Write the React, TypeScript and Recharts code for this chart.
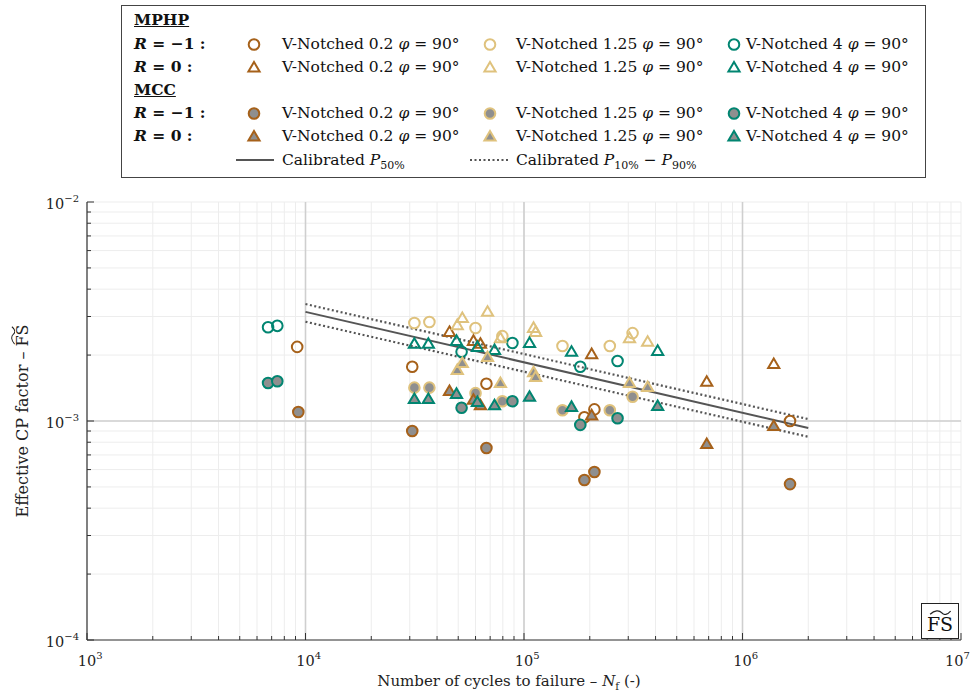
import { ScatterChart, Scatter, XAxis, YAxis, CartesianGrid, ReferenceLine } from 'recharts'

type Pt = { n: number; fs: number }
const pts = (rows: number[][]): Pt[] => rows.map(([n, fs]) => ({ n, fs }))

// MPHP, R = -1 (open circles)
const mphpRm1_02 = pts([[9160, 2.18e-3], [30800, 1.77e-3], [67300, 1.48e-3], [189000, 1.04e-3], [210000, 1.13e-3], [1650000, 1.0e-3]])
const mphpRm1_125 = pts([[31500, 2.8e-3], [36900, 2.83e-3], [60000, 2.66e-3], [79600, 2.44e-3], [150000, 2.2e-3], [247000, 2.2e-3], [314000, 2.52e-3]])
const mphpRm1_4 = pts([[6740, 2.68e-3], [7430, 2.72e-3], [51800, 2.07e-3], [88500, 2.27e-3], [181000, 1.77e-3], [268000, 1.88e-3]])
// MPHP, R = 0 (open triangles)
const mphpR0_02 = pts([[45600, 2.55e-3], [58700, 2.32e-3], [63200, 2.25e-3], [204000, 2.02e-3], [686000, 1.51e-3], [1390000, 1.82e-3]])
const mphpR0_125 = pts([[49500, 2.74e-3], [52200, 2.95e-3], [68100, 3.15e-3], [78000, 2.39e-3], [110600, 2.66e-3], [113000, 2.55e-3], [304000, 2.39e-3], [368000, 2.3e-3]])
const mphpR0_4 = pts([[31500, 2.25e-3], [36500, 2.25e-3], [49100, 2.32e-3], [61200, 2.18e-3], [73300, 2.11e-3], [106000, 2.27e-3], [165000, 2.07e-3], [409000, 2.09e-3]])
// MCC, R = -1 (filled circles)
const mccRm1_02 = pts([[9270, 1.1e-3], [30800, 9.0e-4], [67300, 7.53e-4], [210000, 5.85e-4], [189000, 5.38e-4], [1650000, 5.15e-4]])
const mccRm1_125 = pts([[31500, 1.42e-3], [36900, 1.42e-3], [60000, 1.34e-3], [79600, 1.23e-3], [150000, 1.12e-3], [247000, 1.12e-3], [314000, 1.29e-3]])
const mccRm1_4 = pts([[6740, 1.49e-3], [7430, 1.52e-3], [51800, 1.15e-3], [88500, 1.23e-3], [181000, 9.6e-4], [268000, 1.03e-3]])
// MCC, R = 0 (filled triangles)
const mccR0_02 = pts([[45600, 1.37e-3], [58700, 1.25e-3], [63200, 1.18e-3], [204000, 1.06e-3], [686000, 7.85e-4], [1390000, 9.48e-4]])
const mccR0_125 = pts([[49500, 1.71e-3], [52200, 1.84e-3], [68100, 1.96e-3], [78000, 1.49e-3], [110600, 1.67e-3], [113000, 1.59e-3], [304000, 1.49e-3], [368000, 1.43e-3]])
const mccR0_4 = pts([[31500, 1.26e-3], [36500, 1.26e-3], [49100, 1.33e-3], [61200, 1.22e-3], [73300, 1.18e-3], [106000, 1.29e-3], [165000, 1.16e-3], [409000, 1.17e-3]])

// calibrated curves
const p50 = pts([[1e4, 3.15e-3], [2e6, 9.3e-4]])
const p90 = pts([[1e4, 3.42e-3], [2e6, 1.02e-3]])
const p10 = pts([[1e4, 2.84e-3], [2e6, 8.47e-4]])

const xDecades = [1e3, 1e4, 1e5, 1e6, 1e7]
const yDecades = [1e-4, 1e-3, 1e-2]
const notchLabels = ['V-Notched 0.2', 'V-Notched 1.25', 'V-Notched 4']

const BROWN = '#a6611a'
const TAN = '#dfc27d'
const TEAL = '#018571'
const GREY_FILL = '#8f8f8f'
const FONT = '"DejaVu Serif", "Liberation Serif", serif'

const withMinors = (dec: number[]) =>
  dec.flatMap((d, i) => (i < dec.length - 1 ? [1, 2, 3, 4, 5, 6, 7, 8, 9].map(k => k * d) : [d]))
const xTicks = withMinors(xDecades)
const yTicks = withMinors(yDecades)
const isDecade = (v: number) => Math.abs(Math.log10(v) - Math.round(Math.log10(v))) < 1e-6
const expOf = (v: number) => Math.round(Math.log10(v))

type Kind = 'circle' | 'triangle'

function Marker({ cx, cy, color, kind, filled }: { cx: number; cy: number; color: string; kind: Kind; filled: boolean }) {
  const fill = filled ? GREY_FILL : 'none'
  if (kind === 'circle') {
    return <circle cx={cx} cy={cy} r={5.3} fill={fill} stroke={color} strokeWidth={2} />
  }
  const p = `${cx},${cy - 5.6} ${cx + 5.6},${cy + 4} ${cx - 5.6},${cy + 4}`
  return <polygon points={p} fill={fill} stroke={color} strokeWidth={2} strokeLinejoin="miter" />
}

const makeShape = (color: string, kind: Kind, filled: boolean) => (props: any) => {
  const { cx, cy } = props
  if (cx == null || cy == null) return <g />
  return <Marker cx={cx} cy={cy} color={color} kind={kind} filled={filled} />
}

const series = [
  { key: 'mphpRm1_02', data: mphpRm1_02, color: BROWN, kind: 'circle' as Kind, filled: false },
  { key: 'mphpRm1_125', data: mphpRm1_125, color: TAN, kind: 'circle' as Kind, filled: false },
  { key: 'mphpRm1_4', data: mphpRm1_4, color: TEAL, kind: 'circle' as Kind, filled: false },
  { key: 'mphpR0_02', data: mphpR0_02, color: BROWN, kind: 'triangle' as Kind, filled: false },
  { key: 'mphpR0_125', data: mphpR0_125, color: TAN, kind: 'triangle' as Kind, filled: false },
  { key: 'mphpR0_4', data: mphpR0_4, color: TEAL, kind: 'triangle' as Kind, filled: false },
  { key: 'mccRm1_02', data: mccRm1_02, color: BROWN, kind: 'circle' as Kind, filled: true },
  { key: 'mccRm1_125', data: mccRm1_125, color: TAN, kind: 'circle' as Kind, filled: true },
  { key: 'mccRm1_4', data: mccRm1_4, color: TEAL, kind: 'circle' as Kind, filled: true },
  { key: 'mccR0_02', data: mccR0_02, color: BROWN, kind: 'triangle' as Kind, filled: true },
  { key: 'mccR0_125', data: mccR0_125, color: TAN, kind: 'triangle' as Kind, filled: true },
  { key: 'mccR0_4', data: mccR0_4, color: TEAL, kind: 'triangle' as Kind, filled: true },
]

const AXIS = '#333'

function PowLabel({ x, y, exp, anchor }: { x: number; y: number; exp: number; anchor: 'end' | 'start' }) {
  return (
    <text x={x} y={y} textAnchor={anchor} fontFamily={FONT} fontSize={14.5} fill="#222">
      <tspan>10</tspan>
      <tspan dy={-7.5} fontSize={10}>{exp < 0 ? `−${-exp}` : `${exp}`}</tspan>
    </text>
  )
}

const tickLen = (v: number) => (isDecade(v) ? 7 : 4)

function LeftTick(props: any) {
  const { x, y, payload } = props
  const v = payload.value
  return (
    <g>
      <line x1={x} y1={y} x2={x + tickLen(v)} y2={y} stroke={AXIS} />
      {isDecade(v) && <PowLabel x={x - 8} y={y + 7} exp={expOf(v)} anchor="end" />}
    </g>
  )
}
function RightTick(props: any) {
  const { x, y, payload } = props
  return <line x1={x} y1={y} x2={x - tickLen(payload.value)} y2={y} stroke={AXIS} />
}
function BottomTick(props: any) {
  const { x, y, payload } = props
  const v = payload.value
  // keep the last label inside the picture
  const lx = Math.min(x - 9.2, 971 - 26)
  return (
    <g>
      <line x1={x} y1={y} x2={x} y2={y - tickLen(v)} stroke={AXIS} />
      {isDecade(v) && <PowLabel x={lx} y={y + 26} exp={expOf(v)} anchor="start" />}
    </g>
  )
}
function TopTick(props: any) {
  const { x, y, payload } = props
  return <line x1={x} y1={y} x2={x} y2={y + tickLen(payload.value)} stroke={AXIS} />
}

function LegendMarker({ color, kind, filled }: { color: string; kind: Kind; filled: boolean }) {
  return (
    <svg width={16} height={16} style={{ position: 'absolute' }}>
      <Marker cx={8} cy={8.5} color={color} kind={kind} filled={filled} />
    </svg>
  )
}

const rowY = [20, 44, 67, 90, 113, 136, 160]
const markerX = [254, 490, 734]
const textX = [282, 516, 746]

function Legend() {
  const txt = (left: number, top: number, content: any, extra: any = {}) => (
    <div style={{ position: 'absolute', left, top: top - 10, height: 20, lineHeight: '20px', whiteSpace: 'nowrap', ...extra }}>
      {content}
    </div>
  )
  const rLabel = (v: string) => (
    <span style={{ fontWeight: 'bold' }}>
      <i>R</i> = {v} :
    </span>
  )
  const phi = (
    <>
      {' '}<i>φ</i> = 90°
    </>
  )
  const entryRows = [
    { row: 1, list: series.slice(0, 3) },
    { row: 2, list: series.slice(3, 6) },
    { row: 4, list: series.slice(6, 9) },
    { row: 5, list: series.slice(9, 12) },
  ]
  return (
    <div
      style={{
        position: 'absolute',
        left: 0,
        top: 0,
        width: 971,
        height: 190,
        fontFamily: FONT,
        fontSize: 15.5,
        color: '#111',
      }}
    >
      <div style={{ position: 'absolute', left: 121, top: 5, width: 803, height: 171, border: '1.3px solid #444' }} />
      {txt(134, rowY[0], <b><u>MPHP</u></b>)}
      {txt(134, rowY[1], rLabel('−1'))}
      {txt(134, rowY[2], rLabel('0'))}
      {txt(134, rowY[3], <b><u>MCC</u></b>)}
      {txt(134, rowY[4], rLabel('−1'))}
      {txt(134, rowY[5], rLabel('0'))}
      {entryRows.map(({ row, list }) =>
        list.map((s, i) => (
          <div key={s.key}>
            <div style={{ position: 'absolute', left: markerX[i] - 8, top: rowY[row] - 8 }}>
              <LegendMarker color={s.color} kind={s.kind} filled={s.filled} />
            </div>
            {txt(textX[i], rowY[row], <>{notchLabels[i]}{phi}</>)}
          </div>
        ))
      )}
      <svg width={971} height={190} style={{ position: 'absolute', left: 0, top: 0 }}>
        <line x1={236} x2={274} y1={rowY[6]} y2={rowY[6]} stroke="#555" strokeWidth={2} />
        <line x1={470} x2={508} y1={rowY[6]} y2={rowY[6]} stroke="#555" strokeWidth={2} strokeDasharray="2 2.5" />
      </svg>
      {txt(282, rowY[6], <>Calibrated <i>P</i><sub style={{ fontSize: 11 }}>50%</sub></>)}
      {txt(516, rowY[6], <>Calibrated <i>P</i><sub style={{ fontSize: 11 }}>10%</sub> − <i>P</i><sub style={{ fontSize: 11 }}>90%</sub></>)}
    </div>
  )
}

// "FS" with a wide tilde accent on top
function TildeFS({ size }: { size: number }) {
  return (
    <span style={{ position: 'relative', display: 'inline-block', lineHeight: 1 }}>
      FS
      <svg
        width={size * 1.2}
        height={size * 0.28}
        viewBox="0 0 20 5"
        preserveAspectRatio="none"
        style={{ position: 'absolute', left: '50%', marginLeft: -size * 0.6, top: -size * 0.27 }}
      >
        <path d="M1,4 C5,0 9,0 11,2.5 S16,5 19,1" fill="none" stroke="#222" strokeWidth={1.1} />
      </svg>
    </span>
  )
}

export default function App() {
  return (
    <div style={{ position: 'absolute', left: 0, top: 0, width: 971, height: 693, background: '#fff' }}>
      <ScatterChart width={971} height={693} margin={{ top: 202, right: 10, bottom: 13, left: 27 }}>
        <CartesianGrid stroke="#ededed" strokeWidth={1} />
        <XAxis
          dataKey="n"
          type="number"
          scale="log"
          domain={[1e3, 1e7]}
          allowDataOverflow
          ticks={xTicks}
          interval={0}
          tick={<BottomTick />}
          tickLine={false}
          tickSize={0}
          tickMargin={0}
          height={40}
          axisLine={{ stroke: AXIS, strokeWidth: 1.2 }}
        />
        <XAxis
          xAxisId="top"
          orientation="top"
          type="number"
          scale="log"
          domain={[1e3, 1e7]}
          allowDataOverflow
          ticks={xTicks}
          interval={0}
          tick={<TopTick />}
          tickLine={false}
          tickSize={0}
          tickMargin={0}
          height={0}
          axisLine={{ stroke: AXIS, strokeWidth: 1.2 }}
        />
        <YAxis
          dataKey="fs"
          type="number"
          scale="log"
          domain={[1e-4, 1e-2]}
          allowDataOverflow
          ticks={yTicks}
          interval={0}
          tick={<LeftTick />}
          tickLine={false}
          tickSize={0}
          tickMargin={0}
          width={60}
          axisLine={{ stroke: AXIS, strokeWidth: 1.2 }}
        />
        <YAxis
          yAxisId="right"
          orientation="right"
          type="number"
          scale="log"
          domain={[1e-4, 1e-2]}
          allowDataOverflow
          ticks={yTicks}
          interval={0}
          tick={<RightTick />}
          tickLine={false}
          tickSize={0}
          tickMargin={0}
          width={0}
          axisLine={{ stroke: AXIS, strokeWidth: 1.2 }}
        />
        {xDecades.slice(1, -1).map(v => (
          <ReferenceLine key={`vx${v}`} x={v} stroke="#cfcfcf" strokeWidth={1.6} />
        ))}
        {yDecades.slice(1, -1).map(v => (
          <ReferenceLine key={`hy${v}`} y={v} stroke="#cfcfcf" strokeWidth={1.6} />
        ))}
        <Scatter data={p90} line={{ stroke: '#555', strokeWidth: 2.2, strokeDasharray: '2 2.5' }} shape={() => <g />} isAnimationActive={false} />
        <Scatter data={p10} line={{ stroke: '#555', strokeWidth: 2.2, strokeDasharray: '2 2.5' }} shape={() => <g />} isAnimationActive={false} />
        <Scatter data={p50} line={{ stroke: '#555', strokeWidth: 2 }} shape={() => <g />} isAnimationActive={false} />
        {series.map(s => (
          <Scatter key={s.key} data={s.data} shape={makeShape(s.color, s.kind, s.filled)} isAnimationActive={false} />
        ))}
      </ScatterChart>
      <Legend />
      <div
        style={{
          position: 'absolute',
          left: 72,
          width: 874,
          top: 671,
          height: 20,
          lineHeight: '20px',
          textAlign: 'center',
          fontFamily: FONT,
          fontSize: 15,
          color: '#222',
        }}
      >
        Number of cycles to failure – <i>N</i><sub style={{ fontSize: 10.5 }}>f</sub> (-)
      </div>
      <div
        style={{
          position: 'absolute',
          left: 23 - 219,
          top: 421 - 10,
          width: 438,
          height: 20,
          lineHeight: '20px',
          textAlign: 'center',
          transform: 'rotate(-90deg)',
          fontFamily: FONT,
          fontSize: 16,
          color: '#222',
        }}
      >
        Effective CP factor – <TildeFS size={16} />
      </div>
      <div
        style={{
          position: 'absolute',
          left: 921,
          top: 603,
          width: 36,
          height: 34,
          border: '1.2px solid #222',
          background: '#fff',
          fontFamily: FONT,
          fontSize: 19,
          display: 'flex',
          alignItems: 'flex-end',
          justifyContent: 'center',
          boxSizing: 'content-box',
          color: '#111',
        }}
      >
        <span style={{ marginBottom: 3 }}>
          <TildeFS size={19} />
        </span>
      </div>
    </div>
  )
}
